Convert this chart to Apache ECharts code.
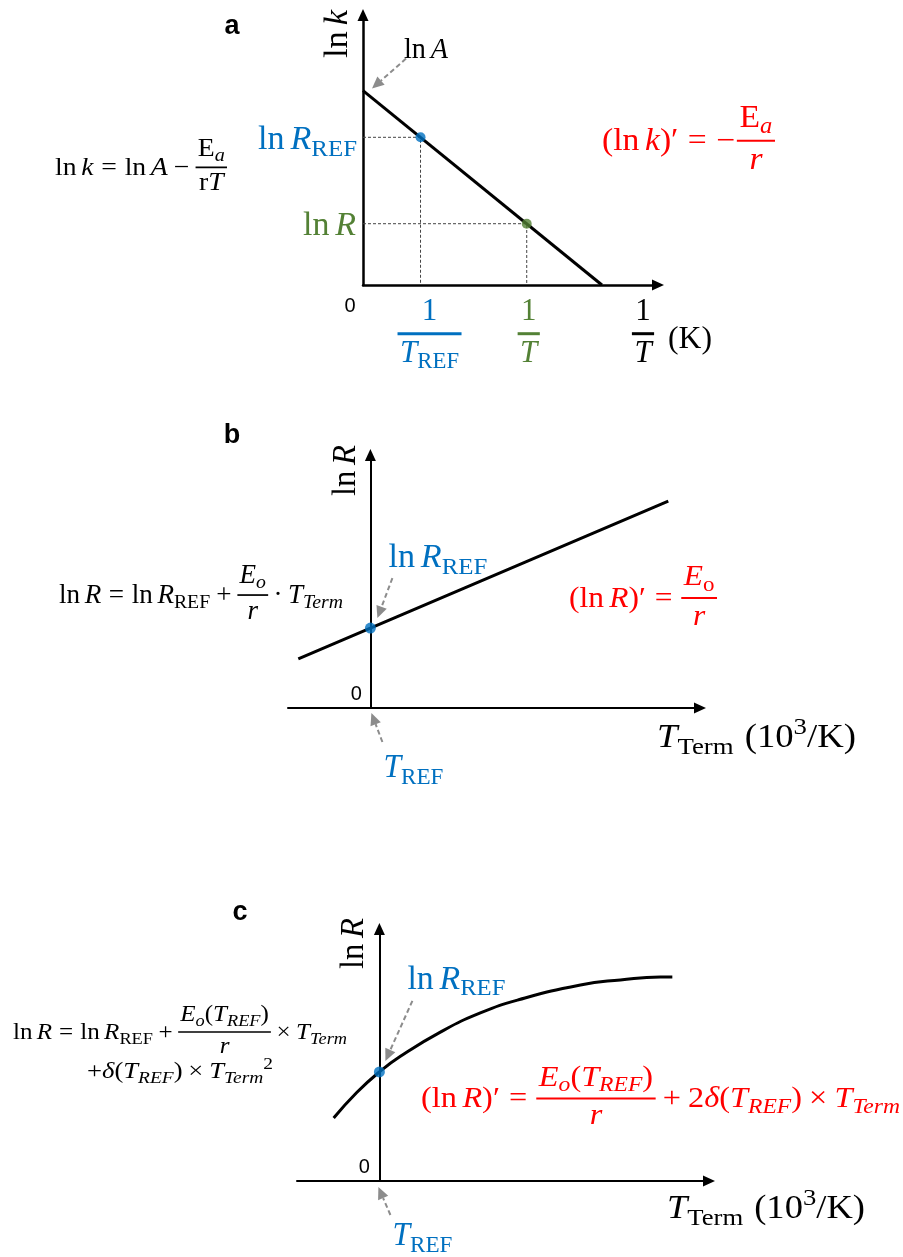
<!DOCTYPE html>
<html>
<head>
<meta charset="utf-8">
<script src="https://cdn.jsdelivr.net/npm/echarts@6/dist/echarts.min.js"></script>
<style>
  html, body { margin: 0; padding: 0; background: #ffffff; }
  #chart { width: 903px; height: 1257px; }
</style>
</head>
<body>
<div id="chart"></div>
<script>
// ---------------- values ----------------
// Panel a: Arrhenius line ln k vs 1/T (y-intercept = ln A)
const arrheniusLine = [[0, 7.2], [8.1, 0]];
const refPointA = [1.95, 5.47];   // (1/T_REF, ln R_REF)
const obsPointA = [5.55, 2.27];   // (1/T, ln R)
// Panel b: ln R linear in T_Term
const linearLine = [[-1.75, 1.94], [0, 3.16], [7.23, 8.18]];
const refPointB = [0, 3.16];
// Panel c: ln R curving over in T_Term
const curveT = [-1.11, -0.55, 0, 0.51, 1.48, 2.45, 3.40, 4.88, 5.85, 6.82, 7.11];
const curveLnR = [2.50, 3.51, 4.33, 4.95, 5.91, 6.67, 7.20, 7.78, 7.98, 8.10, 8.10];
const refPointC = [0, 4.33];
// axis ranges
const xRangeA = [0, 10], yRangeA = [0, 10];
const xRangeBC = [-2, 8], yRangeBC = [0, 10];
const panelLetters = ['a', 'b', 'c'];

// ---------------- styles ----------------
const BLUE = '#0070C0', GREEN = '#538135', RED = '#FF0000', BLACK = '#000000', GREY = '#8C8C8C';
const SERIF = '"Liberation Serif", "DejaVu Serif", serif';
const SANS = '"Liberation Sans", Arial, sans-serif';

const chart = echarts.init(document.getElementById('chart'), null, { renderer: 'canvas' });

function axis(gridIndex, range, width) {
  return {
    type: 'value', gridIndex, min: range[0], max: range[1],
    axisLine: { show: true, onZero: true, symbol: ['none', 'triangle'], symbolSize: [11, 12],
                lineStyle: { color: BLACK, width: width || 2 } },
    axisTick: { show: false }, axisLabel: { show: false }, splitLine: { show: false }
  };
}
function guide(p) { return [[0, p[1]], p, [p[0], 0]]; }

chart.setOption({
  animation: false,
  backgroundColor: '#ffffff',
  grid: [
    { left: 363, top: 15, width: 295, height: 270 },
    { left: 288, top: 455, width: 412, height: 253 },
    { left: 297, top: 929, width: 412, height: 252 }
  ],
  xAxis: [axis(0, xRangeA, 2.5), axis(1, xRangeBC), axis(2, xRangeBC)],
  yAxis: [axis(0, yRangeA, 2.5), axis(1, yRangeBC), axis(2, yRangeBC)],
  series: [
    { type: 'line', xAxisIndex: 0, yAxisIndex: 0, data: guide(refPointA), showSymbol: false,
      lineStyle: { color: '#444', width: 1, type: [3, 2] }, z: 1 },
    { type: 'line', xAxisIndex: 0, yAxisIndex: 0, data: guide(obsPointA), showSymbol: false,
      lineStyle: { color: '#444', width: 1, type: [3, 2] }, z: 1 },
    { type: 'line', xAxisIndex: 0, yAxisIndex: 0, data: arrheniusLine, showSymbol: false,
      lineStyle: { color: BLACK, width: 3 }, z: 2 },
    { type: 'scatter', xAxisIndex: 0, yAxisIndex: 0, data: [refPointA], symbolSize: 10,
      itemStyle: { color: BLUE }, z: 3 },
    { type: 'scatter', xAxisIndex: 0, yAxisIndex: 0, data: [obsPointA], symbolSize: 10,
      itemStyle: { color: GREEN }, z: 3 },
    { type: 'line', xAxisIndex: 1, yAxisIndex: 1, data: linearLine, showSymbol: false,
      lineStyle: { color: BLACK, width: 3 }, z: 2 },
    { type: 'scatter', xAxisIndex: 1, yAxisIndex: 1, data: [refPointB], symbolSize: 11,
      itemStyle: { color: BLUE }, z: 3 },
    { type: 'line', xAxisIndex: 2, yAxisIndex: 2, data: curveT.map((t, i) => [t, curveLnR[i]]),
      showSymbol: false, smooth: 0.5, lineStyle: { color: BLACK, width: 3 }, z: 2 },
    { type: 'scatter', xAxisIndex: 2, yAxisIndex: 2, data: [refPointC], symbolSize: 11,
      itemStyle: { color: BLUE }, z: 3 }
  ]
});

// ---------------- math text layout ----------------
const meas = document.createElement('canvas').getContext('2d');
function fontStr(size, italic) { return (italic ? 'italic ' : '') + size.toFixed(2) + 'px ' + SERIF; }
function textW(t, f) { meas.font = f; meas.textBaseline = 'alphabetic'; return meas.measureText(t).width; }
function midOff(f) {
  meas.font = f; meas.textBaseline = 'middle';
  const d = meas.measureText('H').actualBoundingBoxDescent;
  meas.textBaseline = 'alphabetic';
  return d;
}
const T = (t) => ({ k: 't', t, it: false });
const I = (t) => ({ k: 't', t, it: true });
const SP = (em) => ({ k: 'sp', em });
const SUB = (...c) => ({ k: 'sub', c });
const SUP = (...c) => ({ k: 'sup', c });
const FR = (n, d) => ({ k: 'frac', n, d });

function lay(tokens, S, color, x0, bl, out, barW) {
  let x = x0;
  for (const tk of tokens) {
    if (tk.k === 't') {
      const f = fontStr(S, tk.it);
      out.push({ type: 'text', x, y: bl - midOff(f),
        style: { text: tk.t, font: f, fill: color, align: 'left', verticalAlign: 'middle' } });
      x += textW(tk.t, f);
    } else if (tk.k === 'sp') {
      x += tk.em * S;
    } else if (tk.k === 'sub') {
      x = lay(tk.c, S * 0.73, color, x, bl + 0.2 * S, out, barW);
    } else if (tk.k === 'sup') {
      x = lay(tk.c, S * 0.73, color, x, bl - 0.4 * S, out, barW);
    } else if (tk.k === 'frac') {
      const wn = lay(tk.n, S, color, 0, 0, [], barW);
      const wd = lay(tk.d, S, color, 0, 0, [], barW);
      const w = Math.max(wn, wd) + 0.16 * S;
      const ax = bl - 0.3 * S;
      lay(tk.n, S, color, x + (w - wn) / 2, ax - 0.45 * S, out, barW);
      lay(tk.d, S, color, x + (w - wd) / 2, ax + 0.9 * S, out, barW);
      out.push({ type: 'line', shape: { x1: x, y1: ax, x2: x + w, y2: ax },
        style: { stroke: color, lineWidth: barW || Math.max(1.4, S * 0.065) } });
      x += w;
    }
  }
  return x;
}
// a laid-out expression; fitW (if given) is the drawn width along the reading direction
function formula(tokens, S, color, x, bl, align, fitW, barW) {
  const out = [];
  const w = lay(tokens, S, color, 0, 0, out, barW);
  const sx = fitW ? fitW / w : 1;
  const dx = align === 'right' ? -w * sx : align === 'center' ? -w * sx / 2 : 0;
  return { type: 'group', x: x + dx, y: bl, scaleX: sx, children: out };
}
function rotated(tokens, S, color, x, y, fitW) {
  const out = [];
  const w = lay(tokens, S, color, 0, 0, out);
  return { type: 'group', x, y, rotation: Math.PI / 2, scaleX: fitW ? fitW / w : 1, children: out };
}
function plain(text, x, y, font, color) {
  return { type: 'text', x, y, style: { text, font, fill: color, align: 'center', verticalAlign: 'middle' } };
}
// grey dashed pointer ending in a filled head at (x2, y2)
function pointer(x1, y1, x2, y2) {
  const L = Math.hypot(x2 - x1, y2 - y1), ux = (x2 - x1) / L, uy = (y2 - y1) / L;
  const h = 12, hw = 5.5;
  const bx = x2 - ux * h, by = y2 - uy * h;
  return { type: 'group', children: [
    { type: 'line', shape: { x1, y1, x2: bx, y2: by },
      style: { stroke: GREY, lineWidth: 2, lineDash: [5, 3] } },
    { type: 'polygon', shape: { points: [[x2, y2], [bx - uy * hw, by + ux * hw], [bx + uy * hw, by - ux * hw]] },
      style: { fill: GREY } }
  ] };
}

const px = (g, p) => chart.convertToPixel({ gridIndex: g }, p);

// token sequences
const lnR_REF = [T('ln'), SP(0.17), I('R'), SUB(T('REF'))];
const lnR = [T('ln'), SP(0.17), I('R')];
const T_REF = [I('T'), SUB(T('REF'))];
const tTermAxis = [I('T'), SUB(T('Term')), SP(0.3), T('(10'), SUP(T('3')), T('/K)')];

const eqA = [T('ln'), SP(0.17), I('k'), SP(0.28), T('='), SP(0.28), T('ln'), SP(0.17), I('A'),
  SP(0.22), T('−'), SP(0.22), FR([T('E'), SUB(I('a'))], [T('r'), I('T')])];
const slopeA = [T('(ln'), SP(0.17), I('k'), T(')′'), SP(0.28), T('='), SP(0.28), T('−'), SP(0.05),
  FR([T('E'), SUB(I('a'))], [I('r')])];
const eqB = [T('ln'), SP(0.17), I('R'), SP(0.28), T('='), SP(0.28), T('ln'), SP(0.17), I('R'), SUB(T('REF')),
  SP(0.22), T('+'), SP(0.22), FR([I('E'), SUB(I('o'))], [I('r')]), SP(0.2), T('·'), SP(0.2),
  I('T'), SUB(I('Term'))];
const slopeB = [T('(ln'), SP(0.17), I('R'), T(')′'), SP(0.28), T('='), SP(0.28),
  FR([I('E'), SUB(T('o'))], [I('r')])];
const eoRef = [I('E'), SUB(I('o')), T('('), I('T'), SUB(I('REF')), T(')')];
const eqC1 = [T('ln'), SP(0.17), I('R'), SP(0.28), T('='), SP(0.28), T('ln'), SP(0.17), I('R'), SUB(T('REF')),
  SP(0.22), T('+'), SP(0.22), FR(eoRef, [I('r')]), SP(0.22), T('×'), SP(0.22), I('T'), SUB(I('Term'))];
const eqC2 = [T('+'), I('δ'), T('('), I('T'), SUB(I('REF')), T(')'), SP(0.22), T('×'), SP(0.22),
  I('T'), SUB(I('Term')), SUP(T('2'))];
const slopeC = [T('(ln'), SP(0.17), I('R'), T(')′'), SP(0.28), T('='), SP(0.28), FR(eoRef, [I('r')]),
  SP(0.22), T('+'), SP(0.22), T('2'), I('δ'), T('('), I('T'), SUB(I('REF')), T(')'), SP(0.22), T('×'),
  SP(0.22), I('T'), SUB(I('Term'))];

// anchors from the axes
const oA = px(0, [0, 0]);
const lnAPt = px(0, arrheniusLine[0]);
const refA = px(0, refPointA);
const obsA = px(0, obsPointA);
const tipA = px(0, [xRangeA[1], 0]);
const oB = px(1, [0, 0]);
const refB = px(1, refPointB);
const oC = px(2, [0, 0]);
const refC = px(2, refPointC);

const LETTER = 'bold 27px ' + SANS, ZERO = '20px ' + SANS;
const els = [
  // panel a
  plain(panelLetters[0], 232, 27, LETTER, BLACK),
  rotated([T('ln'), SP(0.17), I('k')], 33, BLACK, 347, 58, 48),
  formula([T('ln'), SP(0.17), I('A')], 29, BLACK, lnAPt[0] + 41, lnAPt[1] - 33, 'left', 44),
  pointer(lnAPt[0] + 43, lnAPt[1] - 32, lnAPt[0] + 9, lnAPt[1] - 2),
  formula(lnR_REF, 33, BLUE, oA[0] - 6, refA[1] + 12, 'right', 99),
  formula(lnR, 33, GREEN, oA[0] - 7, obsA[1] + 11, 'right', 53),
  plain('0', oA[0] - 13, oA[1] + 21, ZERO, BLACK),
  formula([FR([T('1')], T_REF)], 31, BLUE, refA[0] + 9, oA[1] + 58, 'center', 64, 3),
  formula([FR([T('1')], [I('T')])], 31, GREEN, obsA[0] + 2, oA[1] + 58, 'center', 0, 3),
  formula([FR([T('1')], [I('T')])], 31, BLACK, tipA[0] - 15, oA[1] + 58, 'center', 0, 3),
  formula([T('(K)')], 31, BLACK, tipA[0] + 10, oA[1] + 63, 'left', 44),
  formula(eqA, 25.5, BLACK, 55, 175, 'left', 172),
  formula(slopeA, 31, RED, 602, 150, 'left', 173),
  // panel b
  plain(panelLetters[1], 232, 436, LETTER, BLACK),
  rotated(lnR, 33, BLACK, 355, 496, 51),
  formula(lnR_REF, 33, BLUE, refB[0] + 18, refB[1] - 61, 'left', 99),
  pointer(refB[0] + 22, refB[1] - 50, refB[0] + 7, refB[1] - 10),
  plain('0', oB[0] - 14, oB[1] - 14, ZERO, BLACK),
  formula(T_REF, 33, BLUE, oB[0] + 13, oB[1] + 69, 'left', 60),
  pointer(oB[0] + 12, oB[1] + 34, oB[0] + 1, oB[1] + 5),
  formula(tTermAxis, 33, BLACK, 657, 747, 'left', 199),
  formula(eqB, 26.5, BLACK, 59, 603, 'left', 284),
  formula(slopeB, 30, RED, 569, 607, 'left', 148),
  // panel c
  plain(panelLetters[2], 240, 913, LETTER, BLACK),
  rotated(lnR, 33, BLACK, 363, 969, 51),
  formula(lnR_REF, 33, BLUE, refC[0] + 28, refC[1] - 83, 'left', 98),
  pointer(refC[0] + 33, refC[1] - 71, refC[0] + 6, refC[1] - 11),
  plain('0', oC[0] - 15, oC[1] - 14, ZERO, BLACK),
  formula(T_REF, 33, BLUE, oC[0] + 13, oC[1] + 64, 'left', 60),
  pointer(oC[0] + 11, oC[1] + 34, oC[0] - 1, oC[1] + 6),
  formula(tTermAxis, 33, BLACK, 667, 1218, 'left', 198),
  formula(eqC1, 23.5, BLACK, 13, 1039, 'left', 334),
  formula(eqC2, 23.5, BLACK, 87, 1078, 'left', 186),
  formula(slopeC, 28.5, RED, 421, 1107, 'left', 479)
];

chart.setOption({ graphic: { elements: els } });
</script>
</body>
</html>
